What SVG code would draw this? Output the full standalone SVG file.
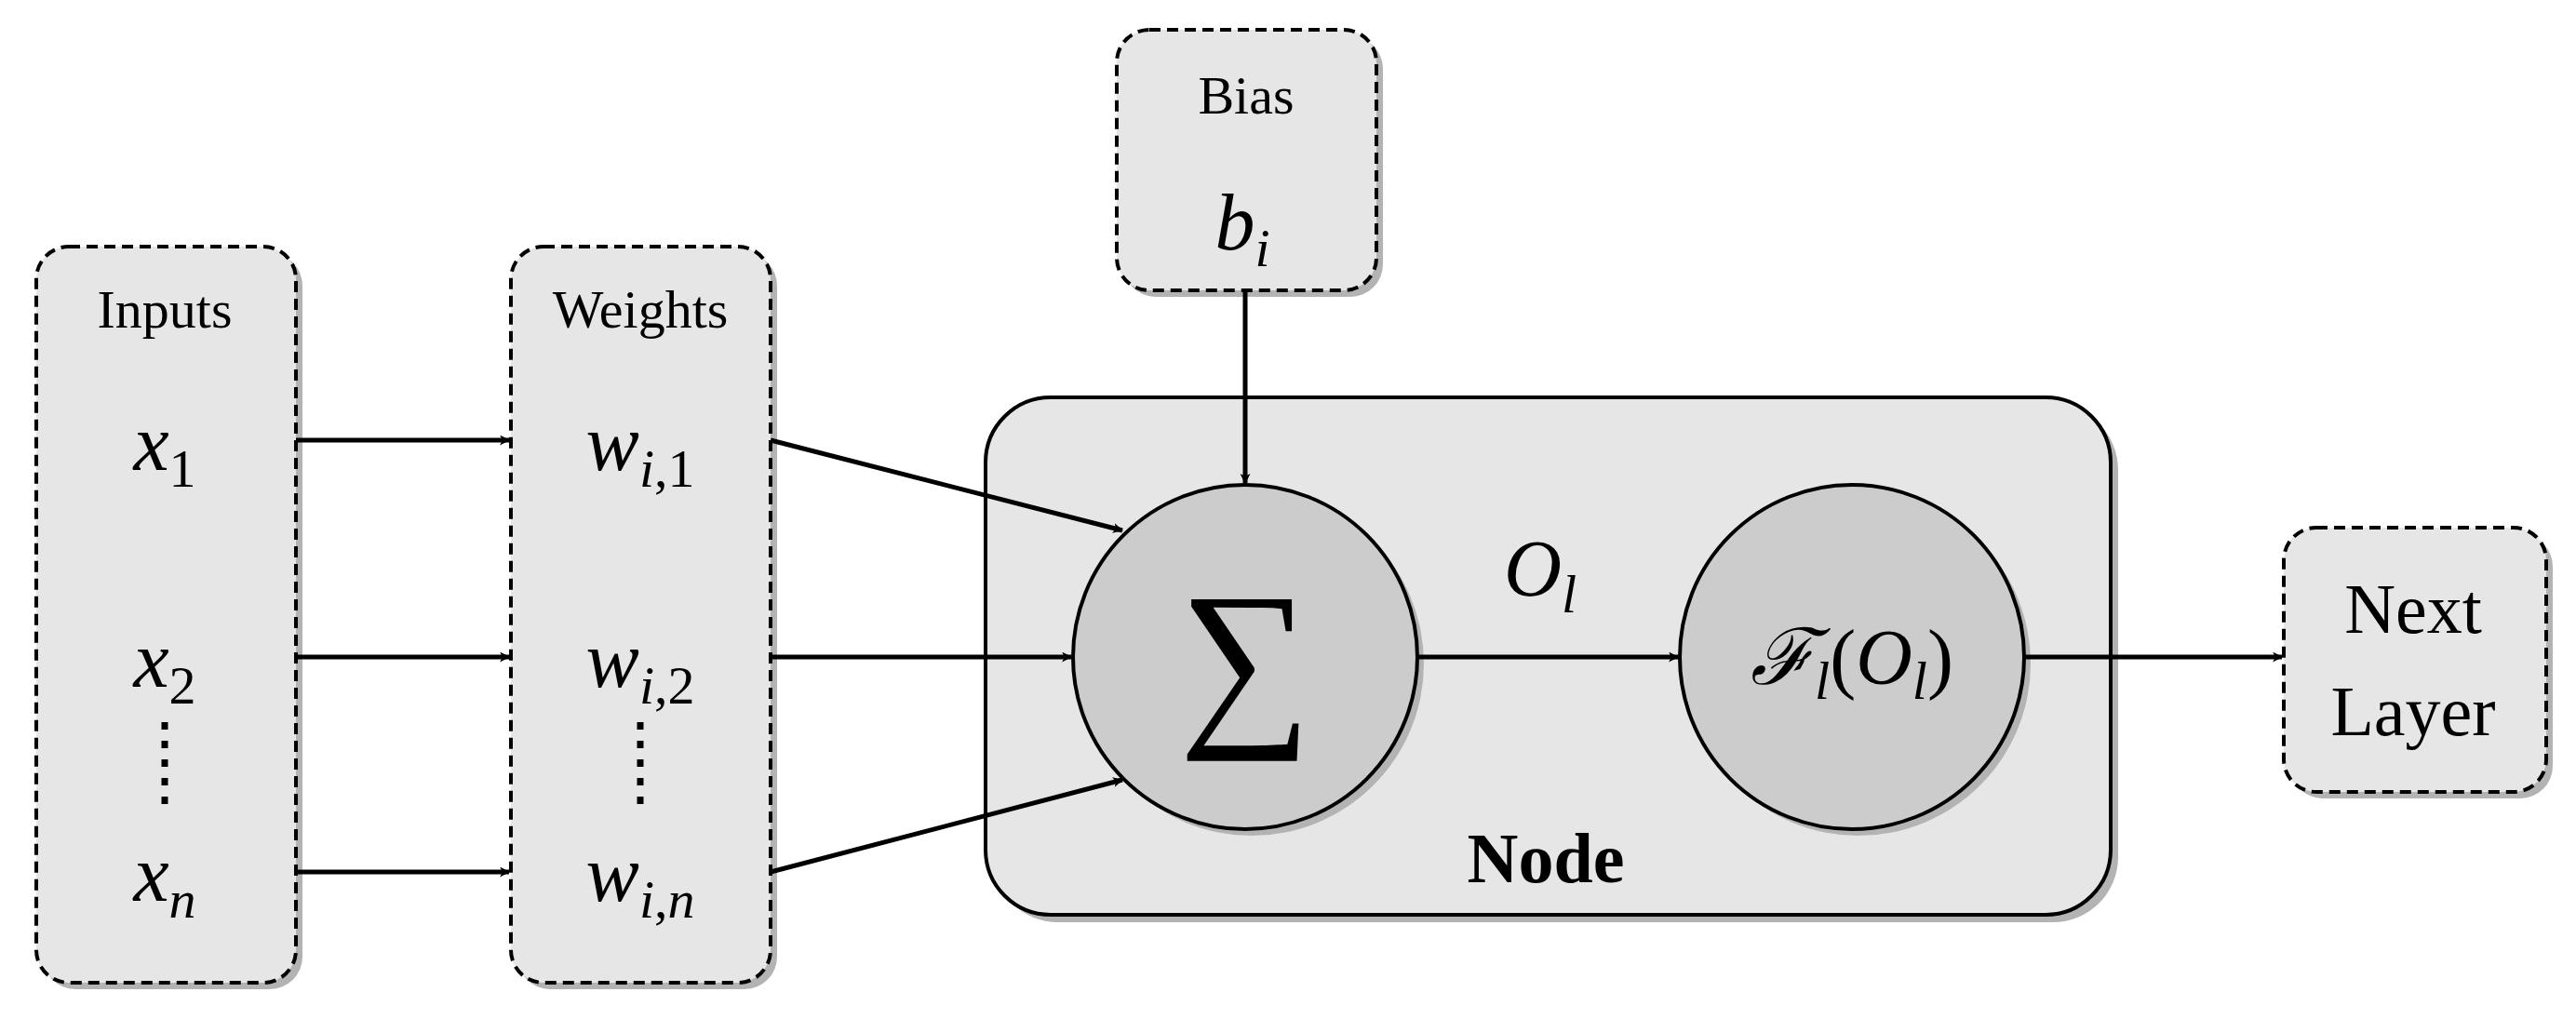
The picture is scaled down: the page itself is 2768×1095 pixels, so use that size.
<svg xmlns="http://www.w3.org/2000/svg" width="2768" height="1095" viewBox="0 0 2768 1095">
<style>
.box{fill:#e6e6e6;stroke:#000;stroke-width:4;stroke-dasharray:12 7}
.node{fill:#e6e6e6;stroke:#000;stroke-width:4}
.sh{fill:#b3b3b3}
.circ{fill:#cccccc;stroke:#000;stroke-width:4}
.lbl{font-family:"Liberation Serif",serif;font-size:58px;text-anchor:middle;fill:#000}
.m{font-family:"Liberation Serif",serif;font-style:italic;font-size:86px;text-anchor:middle;fill:#000}
.sub{font-size:58px}
.ln{stroke:#000;stroke-width:5;fill:none;marker-end:url(#ah)}
.dots{stroke:#000;stroke-width:7;stroke-dasharray:8 12}
</style>
<defs>
<marker id="ah" viewBox="0 0 20 20" refX="18" refY="10" markerWidth="11" markerHeight="11" markerUnits="userSpaceOnUse" orient="auto">
<path d="M0,0 L20,10 L0,20 L5,10 Z" fill="#000"/>
</marker>
</defs>
<rect width="2768" height="1095" fill="#fff"/>
<g id="node-main">
<rect class="sh" x="1067" y="435" width="1209" height="556" rx="70"/>
<rect class="node" x="1059" y="427" width="1209" height="556" rx="70"/>
<text x="1661" y="948" class="lbl" style="font-weight:bold;font-size:76px">Node</text>
</g>
<g id="inputs">
<rect class="sh" x="46" y="272" width="279" height="791" rx="35"/>
<rect class="box" x="39" y="265" width="279" height="791" rx="35"/>
<text x="177" y="352" class="lbl">Inputs</text>
<text x="177" y="505" class="m">x<tspan class="sub" font-style="normal" dy="18">1</tspan></text>
<text x="177" y="738" class="m">x<tspan class="sub" font-style="normal" dy="18">2</tspan></text>
<text x="177" y="968" class="m">x<tspan class="sub" dy="18">n</tspan></text>
<line class="dots" x1="177" y1="776" x2="177" y2="870"/>
</g>
<g id="weights">
<rect class="sh" x="556" y="272" width="279" height="791" rx="35"/>
<rect class="box" x="549" y="265" width="279" height="791" rx="35"/>
<text x="688" y="352" class="lbl">Weights</text>
<text x="688" y="505" class="m">w<tspan class="sub" dy="18">i</tspan><tspan class="sub" font-style="normal">,1</tspan></text>
<text x="688" y="738" class="m">w<tspan class="sub" dy="18">i</tspan><tspan class="sub" font-style="normal">,2</tspan></text>
<text x="688" y="968" class="m">w<tspan class="sub" dy="18">i</tspan><tspan class="sub" font-style="normal">,</tspan><tspan class="sub">n</tspan></text>
<line class="dots" x1="688" y1="776" x2="688" y2="870"/>
</g>
<g id="bias">
<rect class="sh" x="1207" y="39" width="279" height="280" rx="35"/>
<rect class="box" x="1200" y="32" width="279" height="280" rx="35"/>
<text x="1339" y="122" class="lbl">Bias</text>
<text x="1335" y="268" class="m">b<tspan class="sub" dy="18">i</tspan></text>
</g>
<g id="sum">
<circle class="sh" cx="1345" cy="713" r="185"/>
<circle class="circ" cx="1338" cy="706" r="185"/>
<text x="1338" y="775" class="lbl" style="font-size:200px">∑</text>
</g>
<g id="act">
<circle class="sh" cx="1997" cy="713" r="185"/>
<circle class="circ" cx="1990" cy="706" r="185"/>
<text x="1990" y="735" class="m" style="font-size:84px">ℱ<tspan class="sub" dy="16">l</tspan><tspan font-style="normal" dy="-16">(</tspan>O<tspan class="sub" dy="16">l</tspan><tspan font-style="normal" dy="-16">)</tspan></text>
</g>
<g id="next">
<rect class="sh" x="2461" y="574" width="282" height="284" rx="35"/>
<rect class="box" x="2454" y="567" width="282" height="284" rx="35"/>
<text x="2593" y="680" class="lbl" style="font-size:76px">Next</text>
<text x="2593" y="790" class="lbl" style="font-size:76px">Layer</text>
</g>
<g id="connectors">
<line class="ln" x1="318" y1="473" x2="547" y2="473"/>
<line class="ln" x1="318" y1="706" x2="547" y2="706"/>
<line class="ln" x1="318" y1="937" x2="547" y2="937"/>
<line class="ln" x1="828" y1="473" x2="1206" y2="570"/>
<line class="ln" x1="828" y1="706" x2="1151" y2="706"/>
<line class="ln" x1="828" y1="937" x2="1206" y2="838"/>
<line class="ln" x1="1338" y1="312" x2="1338" y2="519"/>
<line class="ln" x1="1523" y1="706" x2="1803" y2="706"/>
<line class="ln" x1="2175" y1="706" x2="2452" y2="706"/>
<text x="1655" y="640" class="m">O<tspan class="sub" dy="18">l</tspan></text>
</g>
</svg>
